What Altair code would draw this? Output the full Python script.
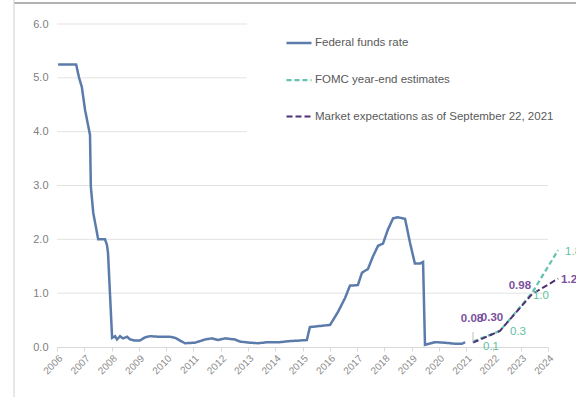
import altair as alt
import pandas as pd

# Effective federal funds rate (percent), plotted against the year axis
ff_year = [2006.04, 2006.70, 2006.81, 2006.91, 2007.03, 2007.21, 2007.24, 2007.33,
           2007.51, 2007.76, 2007.83, 2007.87, 2008.02, 2008.13, 2008.20, 2008.31,
           2008.42, 2008.57, 2008.68, 2008.86, 2009.04, 2009.23, 2009.41, 2009.78,
           2010.14, 2010.33, 2010.69, 2011.06, 2011.43, 2011.68, 2011.90, 2012.16,
           2012.52, 2012.71, 2013.07, 2013.37, 2013.73, 2014.17, 2014.54, 2014.91,
           2015.16, 2015.27, 2015.64, 2016.01, 2016.12, 2016.30, 2016.56, 2016.74,
           2017.03, 2017.18, 2017.40, 2017.58, 2017.77, 2017.95, 2018.13, 2018.32,
           2018.50, 2018.76, 2018.94, 2019.12, 2019.31, 2019.42, 2019.49, 2019.86,
           2020.22, 2020.59, 2020.85, 2020.96]
ff_rate = [5.25, 5.25, 5.00, 4.83, 4.40, 3.94, 2.98, 2.49,
           2.00, 2.00, 1.90, 1.75, 0.17, 0.20, 0.14, 0.20,
           0.16, 0.19, 0.14, 0.12, 0.12, 0.18, 0.20, 0.19,
           0.19, 0.17, 0.07, 0.08, 0.14, 0.16, 0.13, 0.16,
           0.14, 0.10, 0.08, 0.07, 0.09, 0.09, 0.11, 0.12,
           0.13, 0.37, 0.39, 0.41, 0.50, 0.65, 0.91, 1.14,
           1.15, 1.38, 1.45, 1.68, 1.88, 1.92, 2.18, 2.39,
           2.41, 2.38, 1.94, 1.55, 1.55, 1.58, 0.04, 0.09,
           0.08, 0.06, 0.06, 0.09]

# Year-end projections
proj_year = [2021.25, 2022.24, 2023.41, 2024.37]
fomc_rate = [0.1, 0.3, 1.0, 1.8]
market_rate = [0.08, 0.30, 0.98, 1.27]

year_ticks = list(range(2006, 2025))
rate_ticks = [0, 1, 2, 3, 4, 5, 6]
grid_full = [1, 2, 3]      # gridlines across the whole plot
grid_short = [4, 5, 6]     # gridlines that stop where the legend begins

series_names = ["Federal funds rate", "FOMC year-end estimates",
                "Market expectations as of September 22, 2021"]
series_colors = ["#5b7bab", "#63c4ad", "#4f2f75"]
series_dash = [[1, 0], [5, 3], [6, 3]]
series_width = [2.5, 2.0, 3.0]

FONT = "Liberation Sans"
GRID = "#e3e3e3"

rows = []
for y, r in zip(ff_year, ff_rate):
    rows.append({"series": series_names[0], "year": y, "rate": r})
for y, r in zip(proj_year, fomc_rate):
    rows.append({"series": series_names[1], "year": y, "rate": r})
for y, r in zip(proj_year, market_rate):
    rows.append({"series": series_names[2], "year": y, "rate": r})
lines_df = pd.DataFrame(rows)

x_axis = alt.Axis(values=year_ticks, tickCount=len(year_ticks), format="d", title=None,
                  labelAngle=-45, labelColor="#8c8c8c", labelFontSize=10,
                  labelFont=FONT, labelOverlap=False, labelFlush=False,
                  labelSeparation=0, domainColor="#d9d9d9", tickColor="#d9d9d9",
                  tickSize=4, grid=False, labelPadding=2)
y_axis = alt.Axis(values=rate_ticks, format=".1f", title=None,
                  labelColor="#808080", labelFontSize=11, labelFont=FONT,
                  domain=False, ticks=False, labelPadding=9, grid=False)
x_scale = alt.Scale(domain=[2006, 2024], nice=False, zero=False)
y_scale = alt.Scale(domain=[0, 6], nice=False)


def x_enc():
    return alt.X("year:Q", scale=x_scale, axis=x_axis)


def y_enc():
    return alt.Y("rate:Q", scale=y_scale, axis=y_axis)


grid_a = alt.Chart(pd.DataFrame({"rate": grid_full})).mark_rule(
    color=GRID, strokeWidth=1).encode(y=y_enc(), x=alt.value(0), x2=alt.value(491))
grid_b = alt.Chart(pd.DataFrame({"rate": grid_short})).mark_rule(
    color=GRID, strokeWidth=1).encode(y=y_enc(), x=alt.value(0), x2=alt.value(190))

lines = alt.Chart(lines_df).mark_line(clip=False).encode(
    x=x_enc(),
    y=y_enc(),
    color=alt.Color("series:N", title=None,
                    scale=alt.Scale(domain=series_names, range=series_colors),
                    legend=alt.Legend(orient="none", legendX=228, legendY=5,
                                      symbolType="stroke", symbolSize=625,
                                      symbolStrokeWidth=2.5, labelFont=FONT,
                                      labelFontSize=11.5, labelColor="#595959",
                                      labelOffset=2, rowPadding=17, padding=0,
                                      labelLimit=400)),
    strokeDash=alt.StrokeDash("series:N", title=None,
                              scale=alt.Scale(domain=series_names, range=series_dash)),
    strokeWidth=alt.StrokeWidth("series:N", legend=None,
                                scale=alt.Scale(domain=series_names, range=series_width)),
)

fomc_df = pd.DataFrame({"year": proj_year, "rate": fomc_rate})
market_df = pd.DataFrame({"year": proj_year, "rate": market_rate})

# Label offsets (dx, dy, align) for each projection point
market_offsets = [(-1, -24, "center"), (-8, -13, "center"),
                  (-12, -8, "center"), (3, 1, "left")]
fomc_offsets = [(10, 5, "left"), (10, 1, "left"), (1, 3, "left"), (7, 2, "left")]

label_layers = []
for i, (dx, dy, al) in enumerate(market_offsets):
    label_layers.append(
        alt.Chart(market_df.iloc[[i]]).mark_text(
            dx=dx, dy=dy, align=al, baseline="middle", font=FONT, fontSize=11.5,
            fontWeight="bold", color="#7b4f9e", clip=False
        ).encode(x=x_enc(), y=y_enc(), text=alt.Text("rate:Q", format=".2f"))
    )
for i, (dx, dy, al) in enumerate(fomc_offsets):
    label_layers.append(
        alt.Chart(fomc_df.iloc[[i]]).mark_text(
            dx=dx, dy=dy, align=al, baseline="middle", font=FONT, fontSize=11.5,
            color="#5fbf9f", clip=False
        ).encode(x=x_enc(), y=y_enc(), text=alt.Text("rate:Q", format=".1f"))
    )

# Leader line for the first market label
leader = alt.Chart(market_df.iloc[[0]]).mark_rule(color="#bfbfbf", strokeWidth=1).encode(
    x=x_enc(), y=y_enc(), y2=alt.value(308))

# Outer frame: top edge drawn in two pieces, plus the left edge
frame_df = pd.DataFrame({"k": [0]})
frame_top_a = alt.Chart(frame_df).mark_rule(color="#999999", strokeWidth=1.5).encode(
    x=alt.value(-43), x2=alt.value(240), y=alt.value(-21))
frame_top_b = alt.Chart(frame_df).mark_rule(color="#999999", strokeWidth=1.5).encode(
    x=alt.value(240), x2=alt.value(519), y=alt.value(-21))
frame_left = alt.Chart(frame_df).mark_rule(color="#d0d0d0", strokeWidth=1).encode(
    x=alt.value(-43), y=alt.value(-24), y2=alt.value(373))

chart = alt.layer(grid_a, grid_b, lines, leader, *label_layers,
                  frame_top_a, frame_top_b, frame_left).resolve_scale(
    x="shared", y="shared"
).properties(
    width=491, height=323,
    autosize=alt.AutoSizeParams(type="none"),
    padding={"left": 57, "top": 24, "right": 28, "bottom": 50},
).configure_view(stroke=None).configure_axisX(labelOverlap=False)

chart.save("out.html", embed_options={"renderer": "svg", "actions": False})
